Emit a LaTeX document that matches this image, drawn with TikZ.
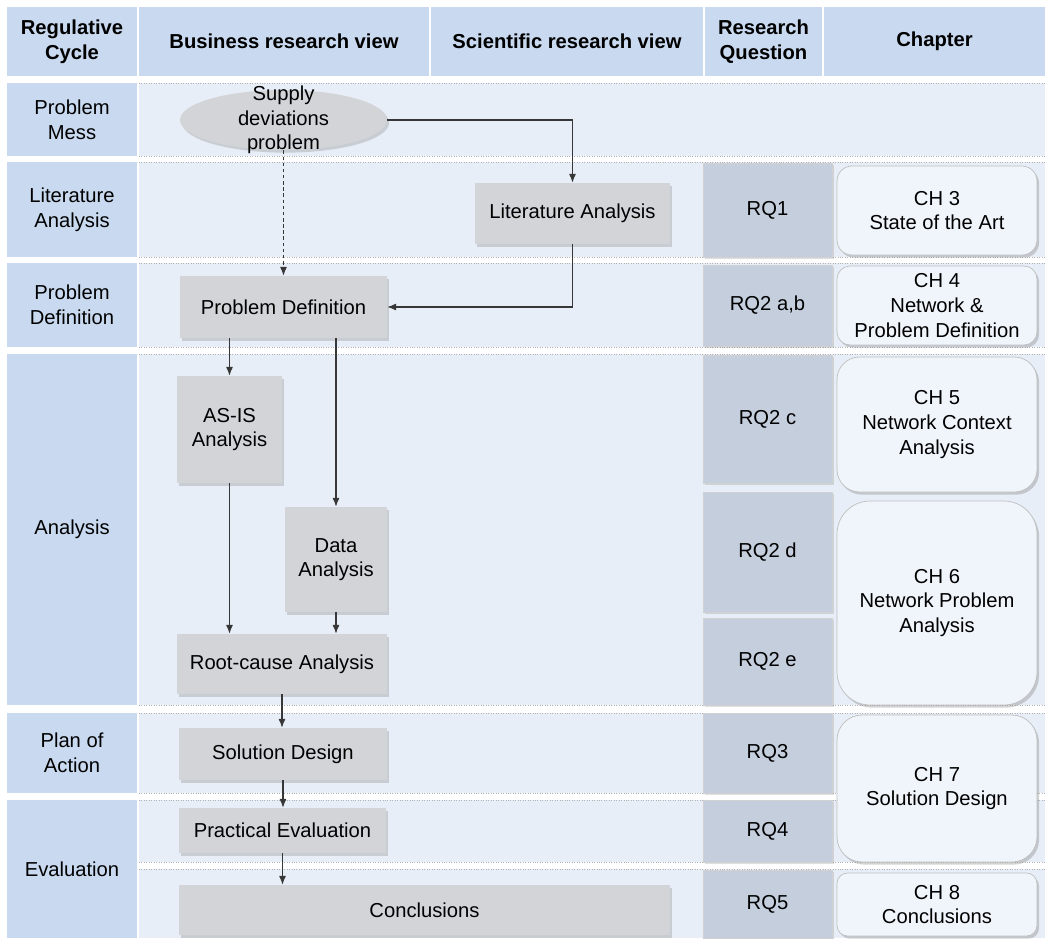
\documentclass[tikz,border=0pt]{standalone}
\usepackage{fontspec}
\setmainfont{Liberation Sans}
\usetikzlibrary{shapes.geometric, arrows.meta, positioning, shadows}

\definecolor{headblue}{RGB}{201,218,240}
\definecolor{rowblue}{RGB}{232,238,247}
\definecolor{boxgrey}{RGB}{211,212,216}
\definecolor{rqgrey}{RGB}{196,206,221}
\definecolor{chfill}{RGB}{240,244,251}
\definecolor{linegrey}{RGB}{55,55,55}

\begin{document}
\begin{tikzpicture}[x=0.02cm, y=-0.02cm,
  font=\fontsize{11.5}{14}\selectfont,
  head/.style={rectangle, fill=headblue, align=center, inner sep=0pt, minimum height=1.38cm, font=\fontsize{11.5}{14}\selectfont\bfseries},
  phase/.style={rectangle, fill=headblue, align=center, inner sep=0pt, minimum width=2.6cm},
  gridline/.style={draw=black!30, densely dotted, line width=0.4pt},
  oval/.style={ellipse, fill=boxgrey, inner sep=0pt, minimum width=4.14cm, minimum height=1.2cm, drop shadow={shadow xshift=1.2pt, shadow yshift=-1.5pt, opacity=0.3}},
  block/.style={rectangle, fill=boxgrey, align=center, inner sep=0pt, drop shadow={shadow xshift=1.2pt, shadow yshift=-1.5pt, opacity=0.3}},
  rqblock/.style={rectangle, fill=rqgrey, draw=black!18, align=center, inner sep=0pt, minimum width=2.58cm, drop shadow={shadow xshift=1pt, shadow yshift=-1pt, opacity=0.25}},
  chblock/.style={rectangle, fill=chfill, draw=black!25, align=center, inner sep=0pt, minimum width=4cm, drop shadow={shadow xshift=1.2pt, shadow yshift=-1.5pt, opacity=0.35}},
  arrow/.style={draw=linegrey, line width=0.6pt, ->, >={Latex[length=5pt, width=4pt]}}]

\useasboundingbox (0,0) rectangle (1045,938);

% header row
\node[head, minimum width=2.6cm] (hcycle) at (72,41.5) {Regulative\\Cycle};
\node[head, minimum width=5.8cm] (hbusiness) at (284,41.5) {Business research view};
\node[head, minimum width=5.44cm] (hscience) at (567,41.5) {Scientific research view};
\node[head, minimum width=2.34cm] (hquestion) at (763.5,41.5) {Research\\Question};
\node[head, minimum width=4.42cm] (hchapter) at (934.5,41.5) {Chapter};

% row backgrounds
\fill[rowblue] (139,83) rectangle (1045,156);
\fill[rowblue] (139,162) rectangle (1045,257);
\fill[rowblue] (139,263) rectangle (1045,347);
\fill[rowblue] (139,354) rectangle (1045,705);
\fill[rowblue] (139,713) rectangle (1045,793);
\fill[rowblue] (139,800) rectangle (1045,862);
\fill[rowblue] (139,869) rectangle (1045,938);
\draw[gridline] (139,83) -- (1045,83) (139,156) -- (1045,156);
\draw[gridline] (139,162) -- (1045,162) (139,257) -- (1045,257);
\draw[gridline] (139,263) -- (1045,263) (139,347) -- (1045,347);
\draw[gridline] (139,354) -- (1045,354) (139,705) -- (1045,705);
\draw[gridline] (139,713) -- (1045,713) (139,793) -- (1045,793);
\draw[gridline] (139,800) -- (1045,800) (139,862) -- (1045,862);
\draw[gridline] (139,869) -- (1045,869);

% regulative cycle
\node[phase, minimum height=1.46cm] (mess) at (72,119.5) {Problem\\Mess};
\node[phase, minimum height=1.9cm] (litrow) at (72,209.5) {Literature\\Analysis};
\node[phase, minimum height=1.68cm] (defrow) at (72,305) {Problem\\Definition};
\node[phase, minimum height=7.02cm] (anarow) at (72,529.5) {Analysis};
\node[phase, minimum height=1.6cm] (planrow) at (72,753) {Plan of\\Action};
\node[phase, minimum height=2.76cm] (evalrow) at (72,869) {Evaluation};

% research steps
\node[oval] (supply) at (283.5,120) {};
\node[align=center, inner sep=0pt] (supplytext) at (supply) {Supply\\deviations\\problem};
\node[block, minimum width=3.9cm, minimum height=1.22cm] (lit) at (572.5,213.5) {Literature Analysis};
\node[block, minimum width=4.14cm, minimum height=1.24cm] (probdef) at (283.5,307) {Problem Definition};
\node[block, minimum width=2.1cm, minimum height=2.14cm] (asis) at (229.5,429.5) {AS-IS\\Analysis};
\node[block, minimum width=2.04cm, minimum height=2.1cm] (data) at (336,559.5) {Data\\Analysis};
\node[block, minimum width=4.2cm, minimum height=1.2cm] (rootcause) at (282,664) {Root-cause Analysis};
\node[block, minimum width=4.16cm, minimum height=1.04cm] (soldesign) at (283,754) {Solution Design};
\node[block, minimum width=4.14cm, minimum height=0.9cm] (practical) at (282.5,830.5) {Practical Evaluation};
\node[block, minimum width=9.82cm, minimum height=1cm] (conclusions) at (424.5,910) {Conclusions};

% research questions
\node[rqblock, minimum height=1.88cm] (rq1) at (767.5,210) {RQ1};
\node[rqblock, minimum height=1.62cm] (rq2ab) at (767.5,305.5) {RQ2 a,b};
\node[rqblock, minimum height=2.56cm] (rq2c) at (767.5,419) {RQ2 c};
\node[rqblock, minimum height=2.4cm] (rq2d) at (767.5,552) {RQ2 d};
\node[rqblock, minimum height=1.74cm] (rq2e) at (767.5,661.5) {RQ2 e};
\node[rqblock, minimum height=1.6cm] (rq3) at (767.5,753) {RQ3};
\node[rqblock, minimum height=1.24cm] (rq4) at (767.5,831) {RQ4};
\node[rqblock, minimum height=1.36cm] (rq5) at (767.5,904) {RQ5};

% chapters
\node[chblock, rounded corners=0.3cm, minimum height=1.78cm] (ch3) at (937,210.5) {CH 3\\State of the Art};
\node[chblock, rounded corners=0.26cm, minimum height=1.58cm] (ch4) at (937,305.5) {CH 4\\Network \&\\Problem Definition};
\node[chblock, rounded corners=0.45cm, minimum height=2.7cm] (ch5) at (937,424.5) {CH 5\\Network Context\\Analysis};
\node[chblock, rounded corners=0.66cm, minimum height=4.08cm] (ch6) at (937,603) {CH 6\\Network Problem\\Analysis};
\node[chblock, rounded corners=0.5cm, minimum height=2.94cm] (ch7) at (937,788.5) {CH 7\\Solution Design};
\node[chblock, rounded corners=0.21cm, minimum height=1.26cm] (ch8) at (937,904.5) {CH 8\\Conclusions};

% connectors
\draw[arrow] (supply.east) -| (lit.north);
\draw[arrow] (lit.south) |- (probdef.east);
\draw[arrow, dashed, dash pattern=on 2pt off 1.5pt] (supply.south) -- (probdef.north);
\draw[arrow] (probdef.south -| asis.north) -- (asis.north);
\draw[arrow] (probdef.south -| data.north) -- (data.north);
\draw[arrow] (asis.south) -- (asis.south |- rootcause.north);
\draw[arrow] (data.south) -- (data.south |- rootcause.north);
\draw[arrow] (rootcause.south) -- (rootcause.south |- soldesign.north);
\draw[arrow] (soldesign.south) -- (soldesign.south |- practical.north);
\draw[arrow] (practical.south) -- (practical.south |- conclusions.north);

\end{tikzpicture}
\end{document}
